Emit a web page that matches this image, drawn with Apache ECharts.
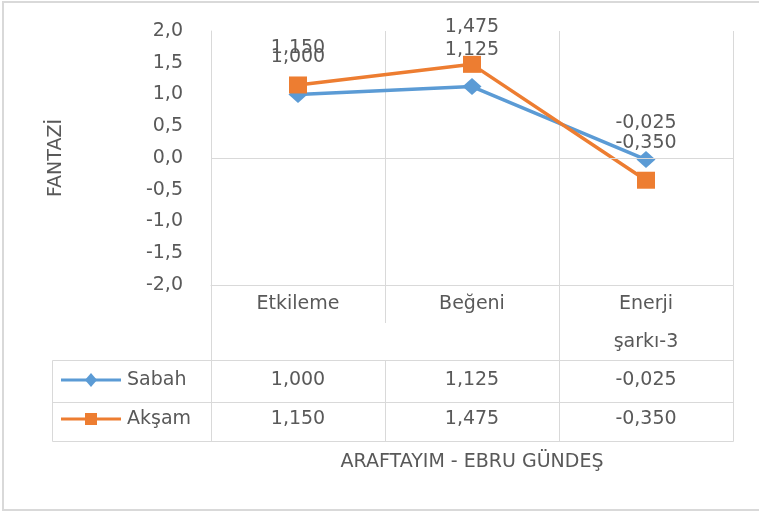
<!DOCTYPE html>
<html><head><meta charset="utf-8">
<script src="https://cdn.jsdelivr.net/npm/echarts@6/dist/echarts.min.js"></script>
<style>html,body{margin:0;padding:0;background:#fff}#c{width:759px;height:512px}</style>
</head><body><div id="c"></div>
<script>
// ---- data ----
const categories = ['Etkileme', 'Beğeni', 'Enerji şarkı-3'];
const seriesNames = ['Sabah', 'Akşam'];
const sabah = [1.000, 1.125, -0.025];
const aksam = [1.150, 1.475, -0.350];
const yMin = -2, yMax = 2, yInterval = 0.5;
const yTitle = 'FANTAZİ';
const xTitle = 'ARAFTAYIM - EBRU GÜNDEŞ';

// ---- style ----
const FONT = 'DejaVu Sans';
const TXT = '#595959';
const GRID = '#D9D9D9';
const BLUE = '#5B9BD5', ORANGE = '#ED7D31';
const FS = 19;
const fmt = v => v.toFixed(3).replace('.', ',');

const chart = echarts.init(document.getElementById('c'), null, {renderer: 'canvas'});

function labelCfg() {
  return {show: true, position: 'top', distance: 19, formatter: p => fmt(p.value),
    color: TXT, fontSize: FS, fontFamily: FONT};
}

chart.setOption({
  animation: false,
  backgroundColor: '#fff',
  grid: {left: 211, right: 26, top: 31, bottom: 227, containLabel: false},
  xAxis: {
    type: 'category', data: categories, boundaryGap: true,
    axisLine: {show: true, onZero: false, lineStyle: {color: GRID, width: 1}},
    axisTick: {show: false},
    splitLine: {show: true, lineStyle: {color: GRID, width: 1}},
    axisLabel: {interval: 0, margin: 0, lineHeight: 38, color: TXT, fontSize: FS, fontFamily: FONT,
      formatter: s => s.replace(' ', '\n')},
    name: xTitle, nameLocation: 'middle', nameGap: 168,
    nameTextStyle: {color: TXT, fontSize: FS, fontFamily: FONT}
  },
  yAxis: {
    type: 'value', min: yMin, max: yMax, interval: yInterval,
    axisLine: {show: true, lineStyle: {color: GRID, width: 1}},
    axisTick: {show: false},
    splitLine: {show: false},
    axisLabel: {margin: 28, color: TXT, fontSize: FS, fontFamily: FONT,
      formatter: v => v.toFixed(1).replace('.', ',')},
    name: yTitle, nameLocation: 'middle', nameGap: 145, nameRotate: 90,
    nameTextStyle: {color: TXT, fontSize: FS, fontFamily: FONT}
  },
  series: [
    {type: 'line', data: [], z: 1, silent: true,
      markLine: {silent: true, symbol: 'none', label: {show: false},
        lineStyle: {color: GRID, width: 1, type: 'solid'}, data: [{yAxis: 0}]}},
    {name: seriesNames[0], type: 'line', data: sabah, z: 3, symbol: 'diamond', symbolSize: [19, 17],
      lineStyle: {color: BLUE, width: 3.5}, itemStyle: {color: BLUE}, label: labelCfg()},
    {name: seriesNames[1], type: 'line', data: aksam, z: 4, symbol: 'rect', symbolSize: [18, 17],
      lineStyle: {color: ORANGE, width: 3.5}, itemStyle: {color: ORANGE}, label: labelCfg()}
  ]
});

// ---- data table below the plot ----
const cx = categories.map((_, i) => chart.convertToPixel({xAxisIndex: 0}, i));
const band = cx[1] - cx[0];
const bounds = [cx[0] - band / 2].concat(cx.map(c => c + band / 2)).map(b => Math.round(b) + 0.5);
const yBot = Math.round(chart.convertToPixel({yAxisIndex: 0}, yMin)) + 0.5;
const rowTop = 360.5, rowMid = 402.5, rowBot = 441.5, tblLeft = 52.5, catSplitEnd = 323;
const rowCenters = [380, 419];
const rows = [sabah, aksam];
const colors = [BLUE, ORANGE];

const line = (x1, y1, x2, y2, color, w) => ({type: 'line', silent: true, z: 10,
  shape: {x1, y1, x2, y2}, style: {stroke: color || GRID, lineWidth: w || 1}});
const els = [];
// outer border (right edge falls outside the canvas)
els.push({type: 'rect', silent: true, z: 0, shape: {x: 3, y: 2, width: 800, height: 508},
  style: {fill: null, stroke: GRID, lineWidth: 2}});
// horizontal table lines
[rowTop, rowMid, rowBot].forEach(y => els.push(line(tblLeft, y, bounds[3], y)));
// vertical table lines
els.push(line(tblLeft, rowTop, tblLeft, rowBot));
els.push(line(bounds[0], yBot, bounds[0], rowBot));
els.push(line(bounds[1], yBot, bounds[1], catSplitEnd));
els.push(line(bounds[1], rowTop, bounds[1], rowBot));
els.push(line(bounds[2], yBot, bounds[2], rowBot));
els.push(line(bounds[3], yBot, bounds[3], rowBot));
els.push(line(bounds[3], 31, bounds[3], yBot));
// legend keys and values
rows.forEach((vals, r) => {
  const yc = rowCenters[r];
  els.push(line(61, yc, 121, yc, colors[r], 3));
  if (r === 0) {
    els.push({type: 'polygon', silent: true, z: 11,
      shape: {points: [[91, yc - 7], [97, yc], [91, yc + 7], [85, yc]]}, style: {fill: BLUE}});
  } else {
    els.push({type: 'rect', silent: true, z: 11, shape: {x: 85, y: yc - 6, width: 12, height: 12},
      style: {fill: ORANGE}});
  }
  els.push({type: 'text', silent: true, z: 11, x: 127, y: yc,
    style: {text: seriesNames[r], fill: TXT, font: FS + 'px "' + FONT + '"', align: 'left', verticalAlign: 'middle'}});
  vals.forEach((v, i) => {
    els.push({type: 'text', silent: true, z: 11, x: cx[i], y: yc,
      style: {text: fmt(v), fill: TXT, font: FS + 'px "' + FONT + '"', align: 'center', verticalAlign: 'middle'}});
  });
});
chart.setOption({graphic: {elements: els}});
</script>
</body></html>
